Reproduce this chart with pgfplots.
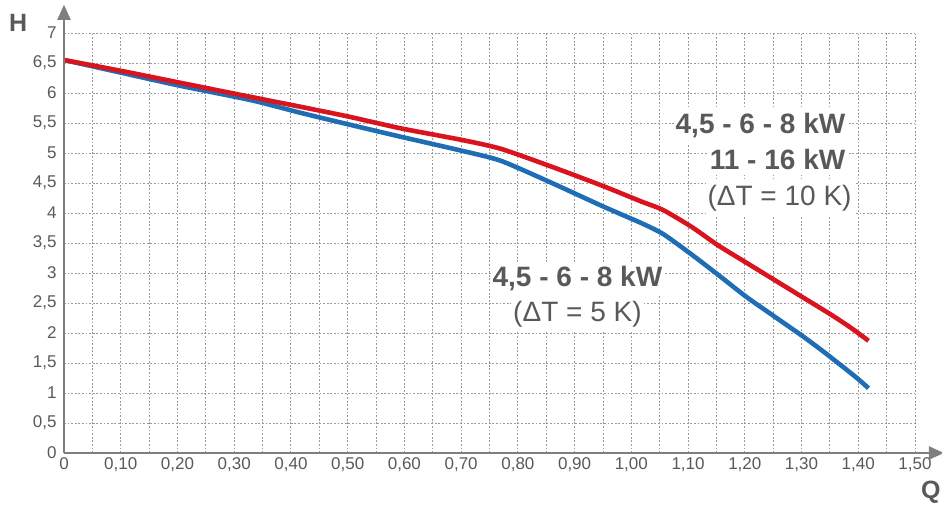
\documentclass[border=0pt]{standalone}
\usepackage{pgfplots}
\pgfplotsset{compat=1.18}
\usepackage{fontspec}
\setmainfont{Liberation Sans}
\usetikzlibrary{arrows.meta}
\definecolor{txt}{HTML}{595959}
\definecolor{axisgray}{HTML}{7F7F7F}
\definecolor{gridgray}{HTML}{9A9A9A}
\definecolor{curvered}{HTML}{D9141E}
\definecolor{curveblue}{HTML}{1F6DB4}
\tikzset{lbl/.style={text=txt, fill=white, inner xsep=2pt, inner ysep=5pt}}

\begin{document}
\begin{tikzpicture}
\useasboundingbox (-64pt,-55pt) rectangle (878pt,453pt);
\begin{axis}[
    scale only axis,
    width=851pt, height=420pt,
    xmin=0, xmax=1.5,
    ymin=0, ymax=7,
    axis line style={draw=none},
    xtick={0,0.1,...,1.51},
    xticklabels={0,{0,10},{0,20},{0,30},{0,40},{0,50},{0,60},{0,70},{0,80},{0,90},{1,00},{1,10},{1,20},{1,30},{1,40},{1,50}},
    minor xtick={0.05,0.15,...,1.46},
    ytick={0,0.5,...,7.01},
    yticklabels={0,{0,5},1,{1,5},2,{2,5},3,{3,5},4,{4,5},5,{5,5},6,{6,5},7},
    major tick length=0pt, minor tick length=0pt,
    grid=both,
    major grid style={gridgray, line width=0.9pt, dash pattern=on 1.8pt off 1.8pt},
    minor grid style={gridgray, line width=0.9pt, dash pattern=on 1.8pt off 1.8pt},
    /pgf/number format/assume math mode=true,
    tick label style={font=\fontsize{17}{17}\selectfont, text=txt},
    xticklabel style={yshift=-1pt},
    yticklabel style={xshift=-4pt},
    clip=false,
]

% curve for 4,5 - 6 - 8 kW at dT = 5 K
\addplot[curveblue, line width=4.6pt, line join=round, smooth, tension=0.4] coordinates {
    (0,6.55) (0.10,6.34) (0.20,6.13) (0.33,5.88) (0.417,5.67) (0.50,5.48)
    (0.594,5.27) (0.70,5.04) (0.77,4.87) (0.86,4.50) (0.95,4.11)
    (1.018,3.83) (1.056,3.65) (1.106,3.31) (1.153,2.97) (1.203,2.60)
    (1.253,2.27) (1.303,1.94) (1.34,1.68) (1.395,1.27) (1.418,1.08)
};

% curve for 4,5 - 6 - 8 / 11 - 16 kW at dT = 10 K
\addplot[curvered, line width=4.6pt, line join=round, smooth, tension=0.4] coordinates {
    (0,6.55) (0.10,6.37) (0.20,6.18) (0.30,5.99) (0.417,5.77) (0.50,5.61)
    (0.594,5.41) (0.70,5.22) (0.77,5.07) (0.86,4.77) (0.95,4.45)
    (1.018,4.19) (1.056,4.05) (1.106,3.77) (1.153,3.46) (1.203,3.17)
    (1.253,2.88) (1.303,2.59) (1.353,2.30) (1.388,2.08) (1.418,1.87)
};

% axes with arrows
\draw[axisgray, line width=2pt, -{Triangle[length=15pt, width=13pt]}]
    (axis cs:0,0) -- (axis cs:1.551,0);
\draw[axisgray, line width=2pt, -{Triangle[length=15pt, width=13pt]}]
    (axis cs:0,0) -- (axis cs:0,7.47);

% labels
\node[lbl, font=\fontsize{28}{28}\selectfont\bfseries, anchor=base east]
    at (axis cs:1.381,5.33) {4,5 - 6 - 8 kW};
\node[lbl, font=\fontsize{28}{28}\selectfont\bfseries, anchor=base east]
    at (axis cs:1.381,4.72) {11 - 16 kW};
\node[lbl, font=\fontsize{28}{28}\selectfont, anchor=base east]
    at (axis cs:1.392,4.13) {(ΔT = 10 K)};
\node[lbl, font=\fontsize{28}{28}\selectfont\bfseries, anchor=base]
    at (axis cs:0.905,2.77) {4,5 - 6 - 8 kW};
\node[lbl, font=\fontsize{28}{28}\selectfont, anchor=base]
    at (axis cs:0.905,2.19) {(ΔT = 5 K)};

\node[font=\fontsize{25}{25}\selectfont\bfseries, text=txt] at (axis cs:-0.081,7.17) {H};
\node[font=\fontsize{25}{25}\selectfont\bfseries, text=txt] at (axis cs:1.528,-0.65) {Q};

\end{axis}
\end{tikzpicture}
\end{document}
